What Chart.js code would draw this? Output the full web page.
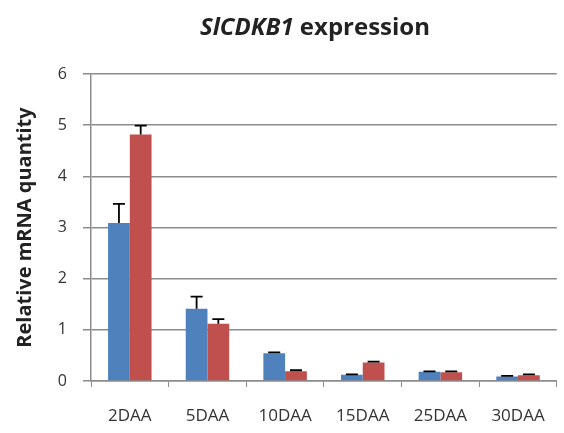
<!DOCTYPE html>
<html>
<head>
<meta charset="utf-8">
<script src="https://cdn.jsdelivr.net/npm/chart.js@4/dist/chart.umd.min.js"></script>
<style>
  html, body { margin: 0; padding: 0; background: #fff; }
  #wrap { width: 564px; height: 433px; }
</style>
</head>
<body>
<div id="wrap"><canvas id="chart" width="564" height="433"></canvas></div>
<script>
// Values
const stages = ['2DAA', '5DAA', '10DAA', '15DAA', '25DAA', '30DAA'];
const blueValues = [3.09, 1.41, 0.54, 0.12, 0.18, 0.09];
const blueErrors = [0.37, 0.24, 0.02, 0.01, 0.01, 0.01];
const redValues = [4.82, 1.12, 0.19, 0.36, 0.17, 0.11];
const redErrors = [0.17, 0.09, 0.02, 0.02, 0.02, 0.02];
const yTicks = [0, 1, 2, 3, 4, 5, 6];

const FONT = "'Open Sans', 'DejaVu Sans', sans-serif";

// upward error bars with a cap
const errorBars = {
    id: 'errorBars',
    afterDatasetsDraw(chart) {
        const ctx = chart.ctx;
        const yScale = chart.scales.y;
        ctx.save();
        ctx.strokeStyle = '#000';
        ctx.lineWidth = 1.8;
        chart.data.datasets.forEach((ds, i) => {
            const meta = chart.getDatasetMeta(i);
            meta.data.forEach((bar, j) => {
                const top = yScale.getPixelForValue(ds.data[j] + ds.errors[j]);
                ctx.beginPath();
                ctx.moveTo(bar.x, bar.y);
                ctx.lineTo(bar.x, top);
                ctx.moveTo(bar.x - 6, top);
                ctx.lineTo(bar.x + 6, top);
                ctx.stroke();
            });
        });
        ctx.restore();
    }
};

// title with italic gene name
const mixedTitle = {
    id: 'mixedTitle',
    afterDraw(chart) {
        const ctx = chart.ctx;
        const part1 = 'SlCDKB1';
        const part2 = ' expression';
        ctx.save();
        ctx.fillStyle = '#222';
        ctx.textBaseline = 'middle';
        ctx.font = 'italic bold 24px ' + FONT;
        const w1 = ctx.measureText(part1).width;
        ctx.font = 'bold 24px ' + FONT;
        const w2 = ctx.measureText(part2).width;
        const x0 = 315 - (w1 + w2) / 2;
        ctx.font = 'italic bold 24px ' + FONT;
        ctx.fillText(part1, x0, 28);
        ctx.font = 'bold 24px ' + FONT;
        ctx.fillText(part2, x0 + w1, 28);
        ctx.restore();
    }
};

new Chart(document.getElementById('chart'), {
    type: 'bar',
    data: {
        labels: stages,
        datasets: [
            { data: blueValues, errors: blueErrors, backgroundColor: '#4f81bd' },
            { data: redValues, errors: redErrors, backgroundColor: '#c0504d' }
        ]
    },
    options: {
        responsive: false,
        animation: false,
        layout: { padding: { top: 74, left: 0, right: 4, bottom: 0 } },
        datasets: { bar: { categoryPercentage: 0.56, barPercentage: 1.0 } },
        scales: {
            x: {
                grid: { drawOnChartArea: false, drawTicks: true, tickLength: 6, color: '#8c8c8c', offset: true },
                border: { color: '#8c8c8c', width: 1.5 },
                ticks: { color: '#333', font: { family: FONT, size: 17 }, padding: 19 },
                afterFit(scale) { scale.height = 52; }
            },
            y: {
                min: 0,
                max: 6,
                afterBuildTicks(scale) { scale.ticks = yTicks.map(v => ({ value: v })); },
                grid: { color: '#8c8c8c', lineWidth: 1.5, tickLength: 8 },
                border: { color: '#8c8c8c', width: 1.5 },
                ticks: { color: '#333', font: { family: FONT, size: 16 }, padding: 16 },
                title: {
                    display: true,
                    text: 'Relative mRNA quantity',
                    color: '#222',
                    font: { family: FONT, size: 20, weight: 'bold' },
                    padding: { top: 13, bottom: 0 }
                },
                afterFit(scale) { scale.width = 91; }
            }
        },
        plugins: {
            legend: { display: false },
            tooltip: { enabled: false }
        }
    },
    plugins: [errorBars, mixedTitle]
});
</script>
</body>
</html>
